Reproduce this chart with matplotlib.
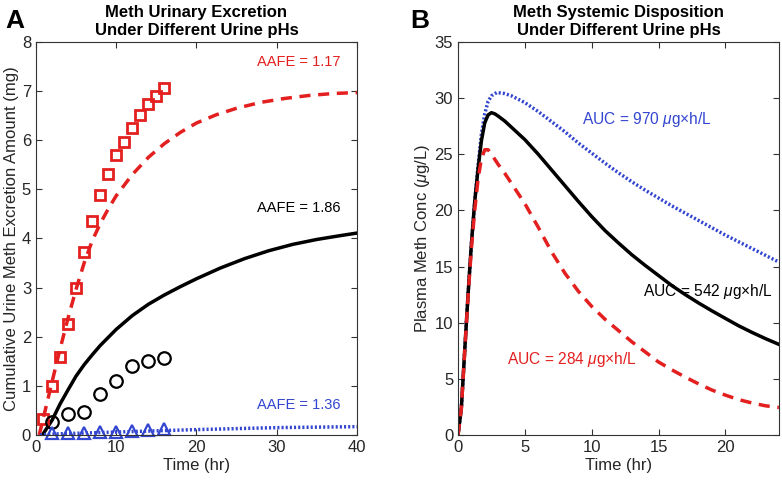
import matplotlib
matplotlib.use("Agg")
import matplotlib.pyplot as plt

plt.rcParams['font.family'] = ['Liberation Sans', 'DejaVu Sans']
plt.rcParams['mathtext.fontset'] = 'custom'
plt.rcParams['mathtext.rm'] = 'Liberation Sans'
plt.rcParams['mathtext.it'] = 'Liberation Sans:italic'

RED = '#e3201f'
BLUE = '#3346d0'
BLACK = '#000000'
TXT = '#262626'

# ---------- Panel A data ----------
sq_t = [0.85, 2, 3, 4, 5, 6, 7, 8, 9, 10, 11, 12, 13, 14, 15, 16]
sq_y = [0.33, 0.99, 1.58, 2.25, 2.99, 3.72, 4.36, 4.88, 5.31, 5.70, 5.97, 6.25, 6.52, 6.73, 6.89, 7.07]
ci_t = [2, 4, 6, 8, 10, 12, 14, 16]
ci_y = [0.26, 0.42, 0.47, 0.83, 1.10, 1.40, 1.51, 1.57]
tr_t = [2, 4, 6, 8, 10, 12, 14, 16]
tr_y = [0.04, 0.05, 0.05, 0.06, 0.07, 0.09, 0.10, 0.12]

red_a_t = [0.4, 1, 2, 3, 4, 5, 6, 7, 8, 9, 10, 12, 14, 16, 18, 20, 22.5, 25, 28, 31, 34, 37, 40]
red_a_y = [0, 0.40, 1.08, 1.75, 2.38, 2.97, 3.50, 3.95, 4.30, 4.60, 4.87, 5.30, 5.65, 5.93, 6.16, 6.35, 6.52, 6.65, 6.77, 6.85, 6.91, 6.95, 6.97]
blk_a_t = [0.8, 2, 3, 4, 5, 6, 7, 8, 10, 12, 14, 16, 18, 20, 23, 26, 29, 32, 35, 38, 40]
blk_a_y = [0, 0.30, 0.63, 0.92, 1.20, 1.43, 1.63, 1.82, 2.15, 2.43, 2.66, 2.85, 3.02, 3.18, 3.40, 3.59, 3.75, 3.88, 3.98, 4.06, 4.11]
blu_a_t = [0.5, 2, 4, 6, 8, 10, 12, 14, 16, 20, 25, 30, 35, 40]
blu_a_y = [0, 0.02, 0.03, 0.04, 0.05, 0.06, 0.07, 0.08, 0.09, 0.11, 0.13, 0.15, 0.16, 0.17]

# ---------- Panel B data ----------
blu_b_t = [0, 0.25, 0.5, 0.75, 1.0, 1.25, 1.5, 1.75, 2.0, 2.25, 2.5, 2.9, 3.5, 4, 5, 6, 7, 8, 9, 10, 11, 12, 13, 14, 15, 16, 17, 18, 19, 20, 21, 22, 23, 24]
blu_b_y = [0, 2.4, 7.5, 12.5, 17.0, 20.8, 24.0, 26.8, 28.6, 29.7, 30.2, 30.5, 30.4, 30.2, 29.6, 28.8, 27.9, 27.0, 26.0, 25.1, 24.2, 23.35, 22.55, 21.8, 21.1, 20.4, 19.75, 19.1, 18.45, 17.8, 17.2, 16.6, 16.0, 15.4]
blk_b_t = [0, 0.25, 0.5, 0.75, 1.0, 1.25, 1.5, 1.75, 2.0, 2.25, 2.5, 2.75, 3.0, 3.5, 4, 5, 6, 7, 8, 9, 10, 11, 12, 13, 14, 15, 16, 17, 18, 19, 20, 21, 22, 23, 24]
blk_b_y = [0, 2.4, 7.5, 12.5, 17.0, 20.8, 23.7, 26.2, 27.8, 28.5, 28.7, 28.6, 28.4, 27.95, 27.4, 26.3, 25.0, 23.6, 22.2, 20.8, 19.45, 18.2, 17.1, 16.05, 15.1, 14.2, 13.3, 12.5, 11.75, 11.05, 10.38, 9.72, 9.13, 8.58, 8.07]
red_b_t = [0, 0.25, 0.5, 0.75, 1.0, 1.25, 1.5, 1.75, 2.0, 2.25, 2.5, 3, 3.5, 4, 5, 6, 7, 8, 9, 10, 11, 12, 13, 14, 15, 16, 17, 18, 19, 20, 21, 22, 23, 24]
red_b_y = [0, 2.4, 7.4, 12.3, 16.6, 20.0, 22.8, 24.6, 25.4, 25.4, 25.0, 24.1, 23.3, 22.4, 20.6, 18.5, 16.3, 14.4, 12.8, 11.45, 10.3, 9.3, 8.3, 7.4, 6.5, 5.8, 5.15, 4.55, 4.0, 3.55, 3.15, 2.85, 2.6, 2.45]

fig = plt.figure(figsize=(7.82, 4.82), dpi=100)
axA = fig.add_axes([0.046, 0.0975, 0.4105, 0.8155])
axB = fig.add_axes([0.5857, 0.0975, 0.4103, 0.8155])

def style(ax):
    for s in ax.spines.values():
        s.set_color('#333333')
        s.set_linewidth(0.8)
    ax.tick_params(direction='in', top=True, right=True, labelsize=12, length=4, width=0.8,
                   color='#333333', labelcolor=TXT)

# Panel A
axA.plot(red_a_t, red_a_y, color=RED, lw=2.5, ls=(0, (3.2, 2.2)))
axA.plot(blk_a_t, blk_a_y, color=BLACK, lw=2.5)
axA.plot(blu_a_t, blu_a_y, color=BLUE, lw=2.5, ls=(0, (0.6, 0.6)))
axA.plot(sq_t, sq_y, ls='none', marker='s', ms=7, mfc='none', mec=RED, mew=2, clip_on=False)
axA.plot(ci_t, ci_y, ls='none', marker='o', ms=9, mfc='none', mec=BLACK, mew=1.6, clip_on=False)
axA.plot(tr_t, tr_y, ls='none', marker='^', ms=9, mfc='none', mec=BLUE, mew=1.6, clip_on=False)
axA.set_xlim(0, 40)
axA.set_ylim(0, 8)
axA.set_xticks([0, 10, 20, 30, 40])
axA.set_yticks(range(0, 9))
style(axA)
axA.set_xlabel('Time (hr)', fontsize=12, labelpad=2, color=TXT)
axA.set_ylabel('Cumulative Urine Meth Excretion Amount (mg)', fontsize=12, labelpad=2, color=TXT)
axA.set_title('Meth Urinary Excretion\nUnder Different Urine pHs', fontsize=12, fontweight='bold', pad=5, linespacing=1.25)
axA.text(37.9, 7.6, 'AAFE = 1.17', color=RED, fontsize=10.5, ha='right', va='center')
axA.text(37.9, 4.62, 'AAFE = 1.86', color=BLACK, fontsize=10.5, ha='right', va='center')
axA.text(37.9, 0.61, 'AAFE = 1.36', color=BLUE, fontsize=10.5, ha='right', va='center')

# Panel B
axB.plot(blu_b_t, blu_b_y, color=BLUE, lw=2.5, ls=(0, (0.6, 0.6)))
axB.plot(blk_b_t, blk_b_y, color=BLACK, lw=2.5)
axB.plot(red_b_t, red_b_y, color=RED, lw=2.5, ls=(0, (3.2, 2.2)))
axB.set_xlim(0, 24)
axB.set_ylim(0, 35)
axB.set_xticks([0, 5, 10, 15, 20])
axB.set_yticks(range(0, 36, 5))
style(axB)
axB.set_xlabel('Time (hr)', fontsize=12, labelpad=2, color=TXT)
axB.set_ylabel(r'Plasma Meth Conc ($\mu$g/L)', fontsize=12, labelpad=2, color=TXT)
axB.set_title('Meth Systemic Disposition\nUnder Different Urine pHs', fontsize=12, fontweight='bold', pad=5, linespacing=1.25)
axB.text(9.3, 28.1, r'AUC = 970 $\mu$g$\times$h/L', color=BLUE, fontsize=11.2, ha='left', va='center')
axB.text(13.8, 12.8, r'AUC = 542 $\mu$g$\times$h/L', color=BLACK, fontsize=11.2, ha='left', va='center')
axB.text(3.66, 6.7, r'AUC = 284 $\mu$g$\times$h/L', color=RED, fontsize=11.2, ha='left', va='center')

fig.text(5 / 782, 1 - 21 / 482, 'A', fontsize=19, fontweight='bold', ha='left', va='center')
fig.text(410 / 782, 1 - 21 / 482, 'B', fontsize=19, fontweight='bold', ha='left', va='center')

fig.savefig('out.png', dpi=100)
